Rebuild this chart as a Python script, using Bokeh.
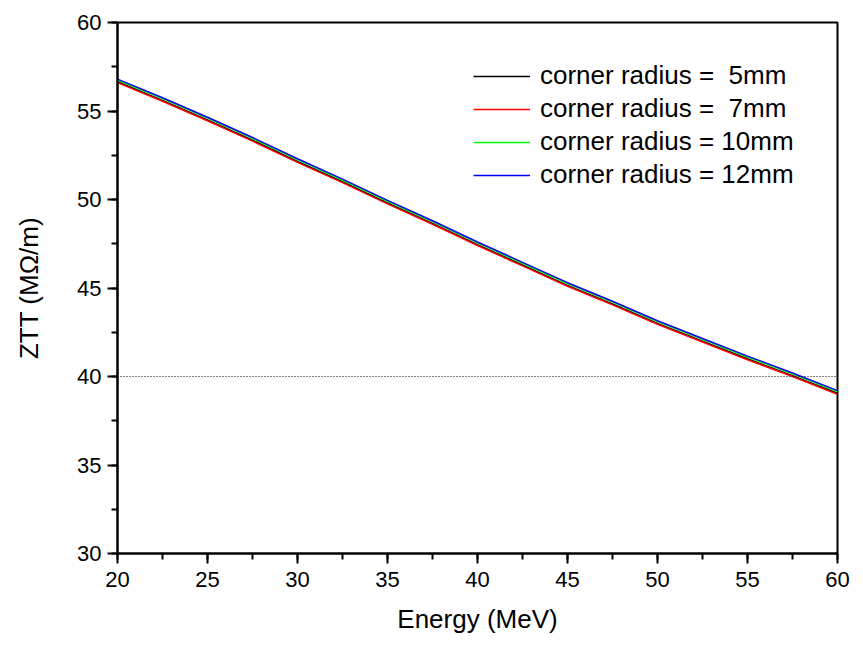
from bokeh.plotting import figure
from bokeh.models import Legend, LegendItem, Span, SingleIntervalTicker, Range1d
from bokeh.embed import file_html
from bokeh.resources import INLINE

energy = [20, 22.5, 25, 27.5, 30, 32.5, 35, 37.5, 40, 42.5, 45, 47.5, 50, 52.5, 55, 57.5, 60]
ztt_5mm = [56.65, 55.6, 54.5, 53.35, 52.15, 51.0, 49.8, 48.65, 47.45, 46.3, 45.15, 44.1, 43.0, 42.0, 41.0, 40.05, 39.05]
ztt_7mm = [56.6, 55.55, 54.45, 53.3, 52.1, 50.95, 49.75, 48.6, 47.4, 46.25, 45.1, 44.05, 42.95, 41.95, 40.95, 40.0, 39.0]
ztt_10mm = [56.75, 55.7, 54.6, 53.45, 52.25, 51.1, 49.9, 48.75, 47.55, 46.4, 45.25, 44.2, 43.1, 42.1, 41.1, 40.15, 39.15]
ztt_12mm = [56.8, 55.75, 54.65, 53.5, 52.3, 51.15, 49.95, 48.8, 47.6, 46.45, 45.3, 44.25, 43.15, 42.15, 41.15, 40.2, 39.2]
labels = ["corner radius =  5mm", "corner radius =  7mm", "corner radius = 10mm", "corner radius = 12mm"]
colors = ["#000000", "#ff0000", "#00ff00", "#0000ff"]
ref_level = 40

FONT = "Liberation Sans"

p = figure(width=855, height=650, output_backend="svg", toolbar_location=None,
           x_range=Range1d(20, 60), y_range=Range1d(30, 60),
           min_border_left=117, min_border_right=18, min_border_top=22, min_border_bottom=97)
p.xgrid.visible = False
p.ygrid.visible = False
p.outline_line_color = "black"
p.outline_line_width = 2
p.background_fill_color = "white"
p.border_fill_color = "white"

for ax, lab in ((p.xaxis[0], "Energy (MeV)"), (p.yaxis[0], "ZTT (MΩ/m)")):
    ax.ticker = SingleIntervalTicker(interval=5, num_minor_ticks=2)
    ax.axis_label = lab
    ax.axis_label_text_font = FONT
    ax.axis_label_text_font_size = "26px"
    ax.axis_label_text_font_style = "normal"
    ax.axis_label_text_color = "black"
    ax.major_label_text_font = FONT
    ax.major_label_text_font_size = "22px"
    ax.major_label_text_color = "black"
    ax.axis_line_width = 2
    ax.axis_line_color = "black"
    ax.major_tick_line_width = 2
    ax.minor_tick_line_width = 2
    ax.major_tick_line_color = "black"
    ax.minor_tick_line_color = "black"
    ax.major_tick_in = 0
    ax.minor_tick_in = 0
    ax.major_tick_out = 10
    ax.minor_tick_out = 6

p.xaxis[0].major_label_standoff = 8
p.xaxis[0].axis_label_standoff = 14
p.yaxis[0].major_label_standoff = 6
p.yaxis[0].axis_label_standoff = 30

span = Span(location=ref_level, dimension="width", line_color="black", line_width=1, line_dash="1 2")
p.add_layout(span)

items = []
for ys, lab, col in zip([ztt_5mm, ztt_7mm, ztt_10mm, ztt_12mm], labels, colors):
    r = p.line(energy, ys, line_color=col, line_width=1.5)
    items.append(LegendItem(label=lab, renderers=[r]))

legend = Legend(items=items, location=(356, 363),
                border_line_color=None, background_fill_alpha=0,
                label_text_font=FONT, label_text_font_size="26px", label_text_color="black",
                glyph_width=57, glyph_height=20, label_standoff=10,
                label_height=28, spacing=2, padding=0, margin=0)
p.add_layout(legend)

open("out.html", "w").write(file_html(p, INLINE))
